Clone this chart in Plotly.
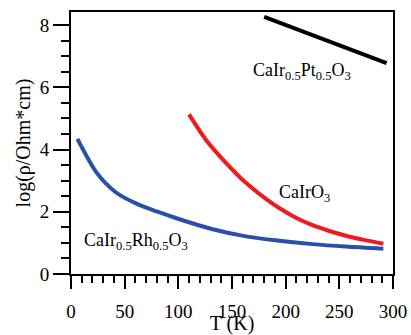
import plotly.graph_objects as go

# CaIr0.5Rh0.5O3 (blue)
rh_T = [6, 24, 42, 61, 80, 101, 132, 163, 194, 225, 256, 291]
rh_log = [4.34, 3.25, 2.62, 2.26, 2.01, 1.76, 1.44, 1.21, 1.07, 0.96, 0.88, 0.81]

# CaIrO3 (red)
ir_T = [110, 126, 145, 163, 181, 194, 210, 225, 240, 256, 275, 291]
ir_log = [5.13, 4.30, 3.55, 2.93, 2.43, 2.12, 1.80, 1.57, 1.39, 1.23, 1.08, 0.97]

# CaIr0.5Pt0.5O3 (black)
pt_T = [180, 294]
pt_log = [8.26, 6.78]

x_ticks = [0, 50, 100, 150, 200, 250, 300]
y_ticks = [0, 2, 4, 6, 8]

FONT = "Times New Roman, Liberation Serif, serif"

fig = go.Figure()
fig.add_trace(go.Scatter(x=rh_T, y=rh_log, mode="lines", line=dict(color="#2a4fa8", width=4, shape="spline", smoothing=0.8), showlegend=False))
fig.add_trace(go.Scatter(x=ir_T, y=ir_log, mode="lines", line=dict(color="#f0191c", width=4, shape="spline", smoothing=0.8), showlegend=False))
fig.add_trace(go.Scatter(x=pt_T, y=pt_log, mode="lines", line=dict(color="black", width=4), showlegend=False))

fig.add_annotation(x=215, y=6.5, text="CaIr<sub>0.5</sub>Pt<sub>0.5</sub>O<sub>3</sub>", showarrow=False, font=dict(family=FONT, size=18, color="black"))
fig.add_annotation(x=218, y=2.6, text="CaIrO<sub>3</sub>", showarrow=False, font=dict(family=FONT, size=18, color="black"))
fig.add_annotation(x=61, y=1.03, text="CaIr<sub>0.5</sub>Rh<sub>0.5</sub>O<sub>3</sub>", showarrow=False, font=dict(family=FONT, size=18, color="black"))

fig.update_layout(
    width=411, height=335,
    margin=dict(l=71, r=18, t=12, b=61),
    plot_bgcolor="white", paper_bgcolor="white",
    font=dict(family=FONT, size=18, color="black"),
    xaxis=dict(range=[0, 300], tickvals=x_ticks, ticks="outside", ticklen=13, tickwidth=2, tickcolor="black",
               tickfont=dict(family=FONT, size=19), automargin=False, ticklabelstandoff=6,
               showline=True, linewidth=2, linecolor="black", mirror=True, showgrid=False, zeroline=False,
               minor=dict(dtick=10, ticks="outside", ticklen=7, tickwidth=1.5, tickcolor="black"),
               title=dict(text="T (K)", standoff=8, font=dict(family=FONT, size=20))),
    yaxis=dict(range=[0, 8.42], tickvals=y_ticks, ticks="outside", ticklen=16, tickwidth=2, tickcolor="black",
               tickfont=dict(family=FONT, size=19), automargin=False,
               showline=True, linewidth=2, linecolor="black", mirror=True, showgrid=False, zeroline=False,
               minor=dict(dtick=0.5, ticks="outside", ticklen=8, tickwidth=1.5, tickcolor="black"),
               title=dict(text="log(ρ/Ohm*cm)", standoff=4, font=dict(family=FONT, size=20))),
)

fig.write_html("out.html")
